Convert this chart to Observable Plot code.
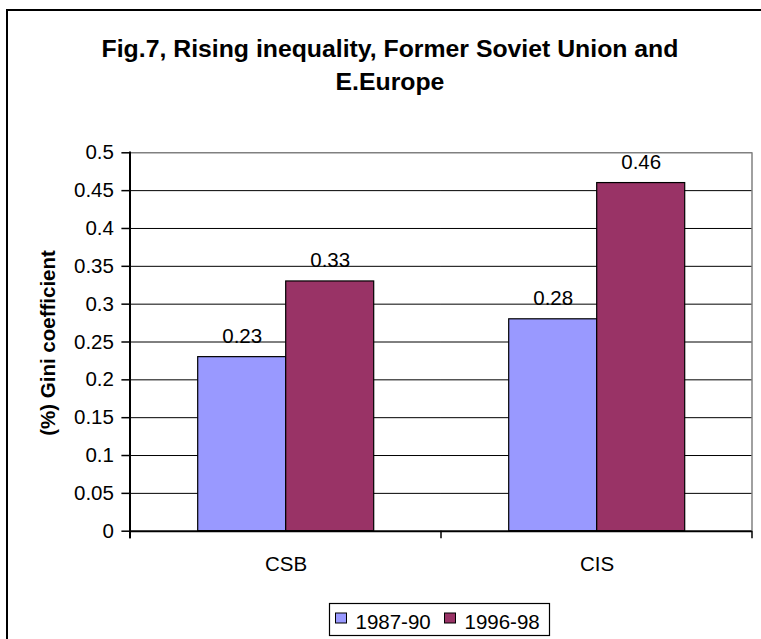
<!DOCTYPE html>
<html>
<head>
<meta charset="utf-8">
<script src="https://cdn.jsdelivr.net/npm/d3@7"></script>
<script src="https://cdn.jsdelivr.net/npm/@observablehq/plot@0.6"></script>
<style>
  html, body { margin: 0; padding: 0; background: white; overflow: hidden; }
  #chart { width: 761px; height: 639px; }
</style>
</head>
<body>
<div id="chart"></div>
<script>
const categories = ["CSB", "CIS"];
const series = ["1987-90", "1996-98"];
const values1987_90 = [0.23, 0.28];
const values1996_98 = [0.33, 0.46];
const seriesColors = ["#9999FF", "#993366"];
const yTicks = [0, 0.05, 0.1, 0.15, 0.2, 0.25, 0.3, 0.35, 0.4, 0.45, 0.5];
const yTickLabels = ["0", "0.05", "0.1", "0.15", "0.2", "0.25", "0.3", "0.35", "0.4", "0.45", "0.5"];
const titleLines = ["Fig.7, Rising inequality, Former Soviet Union and", "E.Europe"];
const yLabel = "(%) Gini coefficient";

const data = categories.flatMap((c, i) => [
  {category: c, series: series[0], value: values1987_90[i]},
  {category: c, series: series[1], value: values1996_98[i]}
]);

const FONT = "'Liberation Sans', Arial, sans-serif";
const FS = 20.5;

const chart = Plot.plot({
  width: 761,
  height: 639,
  marginLeft: 129.3,
  marginRight: 9.3,
  marginTop: 152.3,
  marginBottom: 108.3,
  style: {fontFamily: FONT, fontSize: FS + "px", background: "white", overflow: "hidden", color: "black"},
  fx: {domain: categories, padding: 0, label: null},
  x: {domain: series, paddingInner: 0, paddingOuter: 0.75, axis: null},
  y: {domain: [0, 0.5]},
  color: {domain: series, range: seriesColors},
  marks: [
    Plot.ruleY(yTicks.filter(t => t > 0 && t < 0.5), {stroke: "black", strokeWidth: 1}),
    Plot.ruleY([0.5], {stroke: "#808080", strokeWidth: 1.5}),
    Plot.barY(data, {fx: "category", x: "series", y: "value", fill: "series", stroke: "black", strokeWidth: 1.2}),
    Plot.ruleY([0], {stroke: "black", strokeWidth: 2}),
    Plot.text(data, {fx: "category", x: "series", y: "value", text: d => String(d.value),
      lineAnchor: "bottom", dy: -14, fontSize: FS, fill: "black"}),
    Plot.axisY({ticks: yTicks, tickFormat: d => yTickLabels[yTicks.indexOf(d)], tickSize: 8.6, tickPadding: 8,
      strokeWidth: 1.5, fontSize: FS, label: null, anchor: "left"}),
    Plot.axisFx({anchor: "bottom", tickSize: 0, tickPadding: 25.3, fontSize: FS, label: null})
  ]
});

document.getElementById("chart").appendChild(chart);

const svg = d3.select(chart);
const fx = chart.scale("fx");
const y = chart.scale("y");
const color = chart.scale("color");
const bounds = categories.map(c => fx.apply(c));
bounds.push(fx.apply(categories[categories.length - 1]) + fx.bandwidth);
const y0 = y.apply(0), yTop = y.apply(0.5);

const g = svg.append("g").attr("text-anchor", "start");
// right edge of plot area (grey)
g.append("line").attr("x1", bounds[bounds.length - 1]).attr("x2", bounds[bounds.length - 1])
  .attr("y1", yTop).attr("y2", y0).attr("stroke", "#808080").attr("stroke-width", 1.5);
// left axis line
g.append("line").attr("x1", bounds[0]).attr("x2", bounds[0])
  .attr("y1", yTop - 0.7).attr("y2", y0 + 7.5).attr("stroke", "black").attr("stroke-width", 2);
// category boundary ticks
bounds.forEach(b => g.append("line").attr("x1", b).attr("x2", b).attr("y1", y0).attr("y2", y0 + 7.5)
  .attr("stroke", "black").attr("stroke-width", 1.5));

// y axis title
g.append("text").attr("transform", `translate(55,${(y0 + yTop) / 2 + 1.5}) rotate(-90)`)
  .attr("text-anchor", "middle").attr("font-family", FONT).attr("font-weight", "bold")
  .attr("font-size", FS).attr("fill", "black").text(yLabel);

// title
titleLines.forEach((t, i) => g.append("text").attr("x", 390).attr("y", 57.3 + i * 32.2)
  .attr("text-anchor", "middle").attr("font-family", FONT).attr("font-weight", "bold")
  .attr("font-size", 24.8).attr("fill", "black").text(t));

// legend
const lg = g.append("g").attr("transform", "translate(329,603)");
lg.append("rect").attr("x", 0.5).attr("y", 0.5).attr("width", 220).attr("height", 32)
  .attr("fill", "white").attr("stroke", "black").attr("stroke-width", 1.2);
series.forEach((s, i) => {
  const ox = 6.5 + i * 109;
  lg.append("rect").attr("x", ox).attr("y", 10).attr("width", 11).attr("height", 10)
    .attr("fill", color.apply(s)).attr("stroke", "black").attr("stroke-width", 1);
  lg.append("text").attr("x", ox + 20).attr("y", 25.7).attr("text-anchor", "start")
    .attr("font-family", FONT).attr("font-size", FS).attr("fill", "black").text(s);
});

// outer chart border (extends beyond the picture on the right and bottom)
g.append("rect").attr("x", 7).attr("y", 10).attr("width", 900).attr("height", 900)
  .attr("fill", "none").attr("stroke", "black").attr("stroke-width", 2);
</script>
</body>
</html>
